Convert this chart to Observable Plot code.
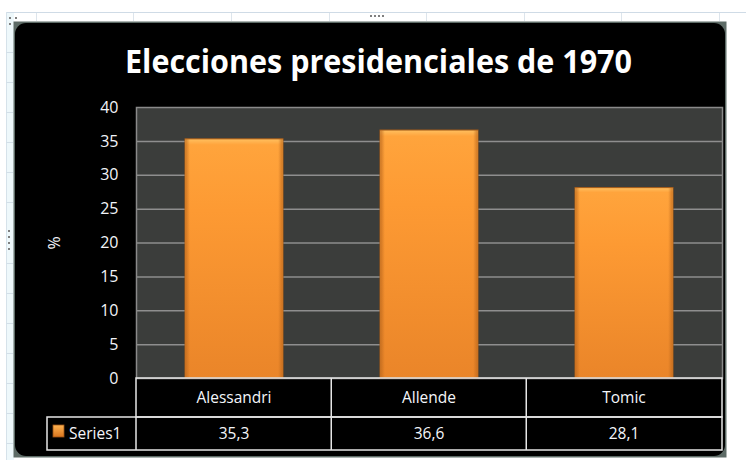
<!DOCTYPE html>
<html>
<head>
<meta charset="utf-8">
<script src="https://cdn.jsdelivr.net/npm/d3@7"></script>
<script src="https://cdn.jsdelivr.net/npm/@observablehq/plot@0.6"></script>
<style>
  html, body { margin: 0; padding: 0; background: white; }
  #chart svg { display: block; }
</style>
</head>
<body>
<div id="chart"></div>
<script>
const titleText = "Elecciones presidenciales de 1970";
const categories = ["Alessandri", "Allende", "Tomic"];
const values = [35.3, 36.6, 28.1];
const valueLabels = ["35,3", "36,6", "28,1"];
const yTicks = [0, 5, 10, 15, 20, 25, 30, 35, 40];
const seriesName = "Series1";
const yLabel = "%";

const data = categories.map((c, i) => ({cat: c, val: values[i]}));

const W = 746, H = 460;
const mL = 136, mR = 24, mT = 107, mB = 82;

const plot = Plot.plot({
  width: W,
  height: H,
  marginLeft: mL,
  marginRight: mR,
  marginTop: mT,
  marginBottom: mB,
  style: {background: "white", fontFamily: "'Open Sans', sans-serif", overflow: "visible"},
  x: {domain: categories, paddingInner: 0.5, paddingOuter: 0.25, axis: null},
  y: {domain: [0, 40], axis: null},
  marks: [
    // chart border (grey) and black rounded chart area
    Plot.frame({fill: "#5d6b66", insetLeft: -(mL - 13), insetRight: -(mR - 20), insetTop: -(mT - 21), insetBottom: -(mB - 3)}),
    Plot.frame({fill: "black", rx: 11, ry: 11, insetLeft: -(mL - 14.5), insetRight: -(mR - 21.5), insetTop: -(mT - 22.5), insetBottom: -(mB - 4.5)}),
    // plot area
    Plot.frame({fill: "#3b3d3b"}),
    Plot.gridY(yTicks.filter(d => d > 0 && d < 40), {stroke: "#8e8e8e", strokeOpacity: 1, strokeWidth: 1.5}),
    Plot.frame({stroke: "#8a8a8a", strokeWidth: 1.5}),
    Plot.axisY({
      ticks: yTicks, tickSize: 0, tickPadding: 18, fontSize: 16, color: "#f2f4f8",
      label: yLabel, labelAnchor: "center", labelArrow: "none", labelOffset: 88
    }),
    Plot.barY(data, {x: "cat", y: "val", fill: "url(#barGrad)", stroke: "#a85c18", strokeWidth: 1}),
    Plot.barY(data, {x: "cat", y: "val", fill: "url(#barEdge)", insetLeft: 1, insetRight: 1})
  ]
});

document.getElementById("chart").appendChild(plot);

const svg = d3.select(plot);
const defs = svg.insert("defs", ":first-child");
const g1 = defs.append("linearGradient").attr("id", "barGrad").attr("x1", 0).attr("y1", 0).attr("x2", 0).attr("y2", 1);
g1.append("stop").attr("offset", "0%").attr("stop-color", "#ffc060");
g1.append("stop").attr("offset", "2.5%").attr("stop-color", "#ffa43c");
g1.append("stop").attr("offset", "30%").attr("stop-color", "#fd9a33");
g1.append("stop").attr("offset", "100%").attr("stop-color", "#ea8529");
const g2 = defs.append("linearGradient").attr("id", "barEdge").attr("x1", 0).attr("y1", 0).attr("x2", 1).attr("y2", 0);
g2.append("stop").attr("offset", "0%").attr("stop-color", "#b8651c").attr("stop-opacity", 0.6);
g2.append("stop").attr("offset", "4%").attr("stop-color", "#b8651c").attr("stop-opacity", 0);
g2.append("stop").attr("offset", "96%").attr("stop-color", "#b8651c").attr("stop-opacity", 0);
g2.append("stop").attr("offset", "100%").attr("stop-color", "#b8651c").attr("stop-opacity", 0.6);
const g3 = defs.append("linearGradient").attr("id", "keyGrad").attr("x1", 0).attr("y1", 0).attr("x2", 0).attr("y2", 1);
g3.append("stop").attr("offset", "0%").attr("stop-color", "#ffb452");
g3.append("stop").attr("offset", "100%").attr("stop-color", "#d8741e");

// Excel sheet surroundings (behind everything)
const bg = svg.insert("g", "defs + *").attr("class", "sheet");
bg.append("rect").attr("x", 6).attr("y", 12).attr("width", 8).attr("height", H - 12).attr("fill", "#eef8fb");
bg.append("line").attr("x1", 6).attr("x2", W).attr("y1", 12.5).attr("y2", 12.5).attr("stroke", "#cfdbe6");
bg.append("line").attr("x1", 6.5).attr("x2", 6.5).attr("y1", 12).attr("y2", H).attr("stroke", "#d6e2ea");
[36, 133, 231, 329, 426, 524, 621, 719].forEach(x => {
  bg.append("line").attr("x1", x + 0.5).attr("x2", x + 0.5).attr("y1", 13).attr("y2", 21).attr("stroke", "#dde5ec");
});
[52, 82, 112, 142, 172, 202, 263, 293, 323, 353, 383, 413, 443].forEach(y => {
  bg.append("line").attr("x1", 6).attr("x2", 13).attr("y1", y + 0.5).attr("y2", y + 0.5).attr("stroke", "#d3dfe8");
});
// resize handles
[370, 374, 378, 382].forEach(x => bg.append("rect").attr("x", x).attr("y", 15).attr("width", 2).attr("height", 2).attr("fill", "#7f7f7f"));
[230, 236, 242, 248].forEach(y => bg.append("rect").attr("x", 8).attr("y", y).attr("width", 2).attr("height", 2).attr("fill", "#7f7f7f"));
[[9, 17], [15, 17], [9, 23]].forEach(([x, y]) => bg.append("rect").attr("x", x).attr("y", y).attr("width", 2).attr("height", 2).attr("fill", "#7f7f7f"));

// Title
svg.append("text")
  .attr("x", 378.5).attr("y", 73)
  .attr("text-anchor", "middle")
  .attr("fill", "white")
  .attr("font-family", "'Open Sans', sans-serif")
  .attr("font-weight", "bold")
  .attr("font-size", 32)
  .attr("textLength", 507)
  .attr("lengthAdjust", "spacingAndGlyphs")
  .text(titleText);

// Data table beneath the plot, aligned with the library's x scale
const xs = plot.scale("x");
const x0 = mL, x1 = W - mR;
const yA = H - mB, yB = 417, yC = 450;
const tbl = svg.append("g").attr("stroke", "#e6e6e6").attr("stroke-width", 1.5).attr("fill", "none");
tbl.append("rect").attr("x", x0).attr("y", yA).attr("width", x1 - x0).attr("height", yB - yA);
tbl.append("rect").attr("x", 47).attr("y", yB).attr("width", x1 - 47).attr("height", yC - yB);
tbl.append("line").attr("x1", x0).attr("x2", x0).attr("y1", yB).attr("y2", yC);
categories.forEach((c, i) => {
  if (i === 0) return;
  const bx = xs.apply(c) - xs.step * xs.paddingInner / 2;
  tbl.append("line").attr("x1", bx).attr("x2", bx).attr("y1", yA).attr("y2", yC);
});
const txt = svg.append("g").attr("fill", "#f4f6fa").attr("font-family", "'Open Sans', sans-serif").attr("font-size", 15.5).attr("text-anchor", "middle");
categories.forEach((c, i) => {
  const cx = xs.apply(c) + xs.bandwidth / 2;
  txt.append("text").attr("x", cx).attr("y", 403).text(c);
  txt.append("text").attr("x", cx).attr("y", 439).text(valueLabels[i]);
});
svg.append("rect").attr("x", 53).attr("y", 425).attr("width", 11).attr("height", 12).attr("fill", "url(#keyGrad)").attr("stroke", "#9a5214").attr("stroke-width", 0.8);
svg.append("text").attr("x", 69).attr("y", 439).attr("fill", "#f4f6fa").attr("text-anchor", "start")
  .attr("font-family", "'Open Sans', sans-serif").attr("font-size", 15.5).text(seriesName);
</script>
</body>
</html>
